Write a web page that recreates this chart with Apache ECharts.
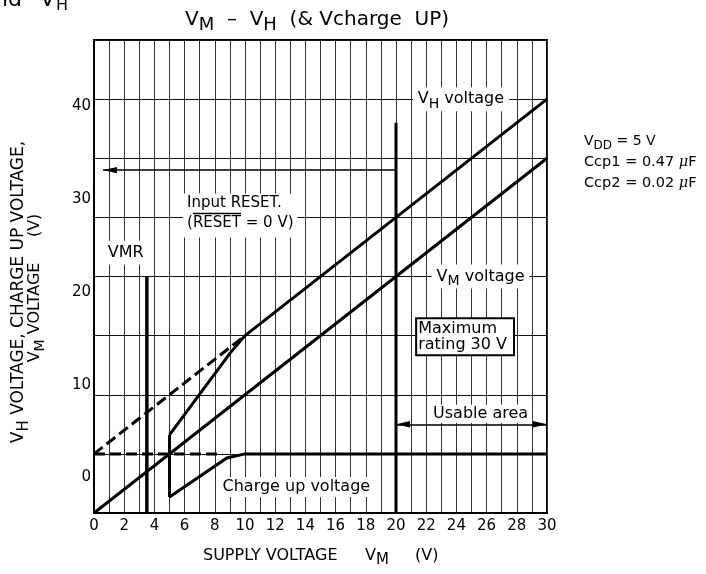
<!DOCTYPE html>
<html>
<head>
<meta charset="utf-8">
<script src="https://cdn.jsdelivr.net/npm/echarts@6/dist/echarts.min.js"></script>
<style>
  html, body { margin: 0; padding: 0; background: #fff; }
  #chart { width: 706px; height: 574px; }
</style>
</head>
<body>
<div id="chart"></div>
<script>
// Supply voltage axis (V) and its labelled ticks
const xTickLabels = [0, 2, 4, 6, 8, 10, 12, 14, 16, 18, 20, 22, 24, 26, 28, 30];
// Printed voltage tick labels on the left scale
const yTickLabels = [0, 10, 20, 30, 40];
// Printed label scale limits (bottom / top of the plot in label units)
const labelScaleMin = -3.82;
const labelScaleMax = 47.1;

// Curves: [supply voltage V_M, voltage]
const vmLine       = [[0, 0], [30, 30]];
const vhLine       = [[10, 15], [30, 35]];
const vhResetLine  = [[0, 5], [10, 15]];
const vhRiseLine   = [[5, 6.6], [9, 13.5], [10, 15]];
const stepAt5      = [[5, 1.35], [5, 6.6]];
const chargeUpLine = [[5, 1.35], [8.8, 4.65], [10, 5], [30, 5]];
const chargeDashed = [[0, 5], [8.5, 5]];
const vmrLine      = [[3.5, 0], [3.5, 20]];
const ratingLine   = [[20, 0], [20, 33]];
const resetArrow   = [[20, 29], [0.6, 29]];
const usableArrow  = [[20, 7.5], [30, 7.5]];

// Text anchors inside the plot: [x, y]
const vhLabelAt      = [24.3, 35];
const vmLabelAt      = [25.6, 20];
const ratingLabelAt  = [21.4, 14.9];
const resetLabelAt   = [5.9, 25.15];
const vmrLabelAt     = [2.1, 22];
const chargeLabelAt  = [13.4, 2.2];
const usableLabelAt  = [25.6, 8.4];

const FONT = 'DejaVu Sans';
const INK = '#000';

function richSet(size, subSize) {
  const ss = subSize || size - 2;
  return {
    n: { fontSize: size, fontFamily: FONT, color: INK, lineHeight: size + 8, verticalAlign: 'middle' },
    s: { fontSize: ss, fontFamily: FONT, color: INK, lineHeight: size, verticalAlign: 'bottom' },
    mu: { fontSize: size, fontFamily: 'DejaVu Serif', fontStyle: 'italic', color: INK, lineHeight: size + 8, verticalAlign: 'middle' }
  };
}

const chart = echarts.init(document.getElementById('chart'), null, { renderer: 'canvas' });

function plainLine(data, width, dashed) {
  return {
    type: 'line',
    data: data,
    showSymbol: false,
    symbol: 'none',
    silent: true,
    z: 3,
    lineStyle: { color: INK, width: width, type: dashed ? [11, 5] : 'solid', cap: 'butt', join: 'miter' }
  };
}

// slim filled arrowhead whose tip sits at the centre of its 28x28 box
const arrowHead = 'path://M0,0 M28,28 M14,14 L17.2,28 L10.8,28 Z';

function textPoint(at, text, extra) {
  return {
    value: at,
    label: Object.assign({
      show: true,
      position: 'inside',
      formatter: text,
      backgroundColor: '#fff',
      padding: [1, 4],
      fontFamily: FONT,
      fontSize: 16,
      color: INK,
      opacity: 1,
      textBorderWidth: 0,
      rich: richSet(16)
    }, extra || {})
  };
}

function arrowSeries(coords, both) {
  return {
    type: 'lines', coordinateSystem: 'cartesian2d', silent: true, z: 4,
    symbol: [both ? arrowHead : 'none', arrowHead], symbolSize: 28,
    lineStyle: { color: INK, width: 1.6, opacity: 1 },
    data: [{ coords: coords }]
  };
}

const option = {
  animation: false,
  backgroundColor: '#fff',
  grid: { left: 94, top: 40, right: 159, bottom: 61, show: true, borderColor: INK, borderWidth: 2, backgroundColor: 'transparent' },
  xAxis: {
    type: 'value', min: 0, max: 30, interval: 1,
    axisLine: { show: true, lineStyle: { color: INK, width: 2 } },
    axisTick: { show: false },
    splitLine: { show: true, lineStyle: { color: '#333', width: 1 } },
    axisLabel: { customValues: xTickLabels, color: INK, fontFamily: FONT, fontSize: 15, margin: 6 }
  },
  yAxis: [
    {
      type: 'value', min: 0, max: 40, interval: 5,
      axisLine: { show: true, lineStyle: { color: INK, width: 2 } },
      axisTick: { show: false },
      axisLabel: { show: false },
      splitLine: { show: true, lineStyle: { color: '#111', width: 1 } }
    },
    {
      type: 'value', min: labelScaleMin, max: labelScaleMax, position: 'left',
      axisLine: { show: false }, axisTick: { show: false }, splitLine: { show: false },
      axisLabel: { customValues: yTickLabels, color: INK, fontFamily: FONT, fontSize: 15, margin: 3 }
    }
  ],
  series: [
    plainLine(vmLine, 3),
    plainLine(vhLine, 3),
    plainLine(vhResetLine, 3, true),
    plainLine(vhRiseLine, 3),
    plainLine(stepAt5, 3),
    plainLine(chargeUpLine, 3),
    plainLine(chargeDashed, 3, true),
    plainLine(vmrLine, 3.5),
    plainLine(ratingLine, 3),
    arrowSeries(resetArrow, false),
    arrowSeries(usableArrow, true),
    {
      type: 'scatter', symbolSize: 0, silent: true, z: 6,
      itemStyle: { color: 'transparent', opacity: 1 },
      data: [
        textPoint(vhLabelAt, '{n|V}{s|H}{n| voltage}', { padding: [0, 5] }),
        textPoint(vmLabelAt, '{n|V}{s|M}{n| voltage}', { padding: [0, 5] }),
        textPoint(ratingLabelAt, 'Maximum\nrating 30 V', {
          position: 'right', distance: 0, align: 'left',
          borderColor: INK, borderWidth: 2, padding: [2, 6, 1, 1], lineHeight: 16, rich: {}
        }),
        textPoint(resetLabelAt, 'Input RESET.\n(RESET = 0 V)', {
          position: 'right', distance: 0, align: 'left',
          padding: [0, 4, 4, 4], lineHeight: 20, fontSize: 15, rich: {}
        }),
        textPoint(vmrLabelAt, 'VMR', { padding: [4, 4] }),
        textPoint(chargeLabelAt, 'Charge up voltage', { padding: [2, 4] }),
        textPoint(usableLabelAt, 'Usable area', { padding: [1, 4] })
      ]
    }
  ],
  graphic: [
    // cut-off heading at the top-left
    { type: 'text', left: -6, top: -11, style: { text: 'nd', font: '22px "DejaVu Sans"', fill: INK } },
    { type: 'text', left: 40, top: -11, style: { text: 'V', font: '22px "DejaVu Sans"', fill: INK } },
    { type: 'text', left: 56, top: -2, style: { text: 'H', font: '16px "DejaVu Sans"', fill: INK } },
    // chart title
    {
      type: 'text', x: 185, y: 20,
      style: {
        text: '{n|V}{s|M}{n|  –  V}{s|H}{n|  (& Vcharge  UP)}',
        align: 'left', verticalAlign: 'middle', rich: richSet(20, 18)
      }
    },
    // conditions
    { type: 'text', x: 584, y: 141, style: { text: '{n|V}{s|DD}{n| = 5 V}', verticalAlign: 'middle', rich: richSet(14, 12) } },
    { type: 'text', x: 584, y: 162, style: { text: '{n|Ccp1 = 0.47 }{mu|μ}{n|F}', verticalAlign: 'middle', rich: richSet(14.5) } },
    { type: 'text', x: 584, y: 183, style: { text: '{n|Ccp2 = 0.02 }{mu|μ}{n|F}', verticalAlign: 'middle', rich: richSet(14.5) } },
    // y axis title (two rotated lines)
    {
      type: 'text', x: 19, y: 292, rotation: Math.PI / 2,
      style: { text: '{n|V}{s|H}{n| VOLTAGE, CHARGE UP VOLTAGE,}', align: 'center', verticalAlign: 'middle', rich: richSet(17, 15) }
    },
    {
      type: 'text', x: 35, y: 288, rotation: Math.PI / 2,
      style: { text: '{n|V}{s|M}{n| VOLTAGE     (V)}', align: 'center', verticalAlign: 'middle', rich: richSet(16) }
    },
    // x axis title
    { type: 'text', x: 203, y: 556, style: { text: '{n|SUPPLY VOLTAGE}', verticalAlign: 'middle', rich: richSet(16) } },
    { type: 'text', x: 365, y: 556, style: { text: '{n|V}{s|M}', verticalAlign: 'middle', rich: richSet(16, 15) } },
    { type: 'text', x: 415, y: 556, style: { text: '{n|(V)}', verticalAlign: 'middle', rich: richSet(16) } }
  ]
};

chart.setOption(option);

// Overline above "RESET" in the reset condition label
(function () {
  const ctx = document.createElement('canvas').getContext('2d');
  ctx.font = '15px "DejaVu Sans"';
  const p = chart.convertToPixel({ xAxisIndex: 0, yAxisIndex: 0 }, resetLabelAt);
  const x0 = p[0] + 4 + ctx.measureText('(').width;
  const x1 = p[0] + 4 + ctx.measureText('(RESET').width;
  const y = p[1] - 2;
  chart.setOption({
    graphic: option.graphic.concat([
      { type: 'line', z: 100, shape: { x1: x0, y1: y, x2: x1, y2: y }, style: { stroke: INK, lineWidth: 1.5 } }
    ])
  });
})();
</script>
</body>
</html>
